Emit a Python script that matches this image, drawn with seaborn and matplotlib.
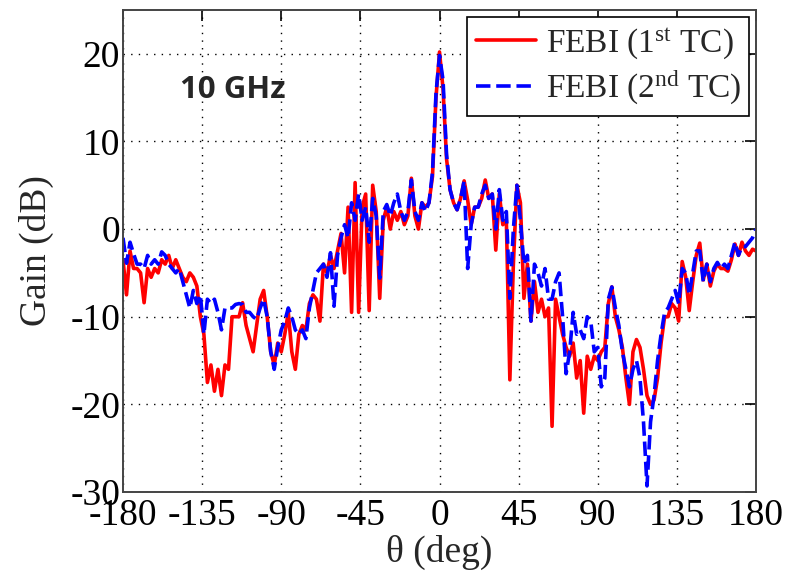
import numpy as np
import pandas as pd
import matplotlib
matplotlib.use("Agg")
import matplotlib.pyplot as plt
import seaborn as sns

# Observation angle grid (deg), 2-degree steps from -180 to 180
theta = np.arange(-180, 181, 2)

# Gain (dB) computed with the first test case
gain_tc1 = [
    -3.5, -7.5, -2.5, -4.5, -4.5, -5.0, -8.4, -4.5, -5.5, -4.5,      # -180 .. -162
    -5.0, -3.5, -4.0, -3.0, -4.5, -3.5, -4.5, -5.5, -6.0, -5.0,      # -160 .. -142
    -5.5, -6.5, -10.0, -12.0, -17.5, -15.5, -18.5, -16.0, -19.0, -15.5,  # -140 .. -122
    -16.0, -10.0, -10.0, -10.0, -8.4, -11.0, -12.5, -14.0, -11.0, -8.0,  # -120 .. -102
    -7.0, -10.0, -14.0, -15.5, -13.0, -14.0, -12.0, -9.5, -14.0, -16.0,  # -100 .. -82
    -12.0, -11.0, -11.5, -8.5, -7.5, -8.0, -10.5, -4.0, -5.0, -3.0,      # -80 .. -62
    -4.5, -2.5, -0.5, -5.0, 2.5, -9.5, 5.3, -9.5, 2.5, 4.0,              # -60 .. -42
    -9.3, 5.0, 2.0, -7.9, 1.0, 2.5, 0.0, 2.0, 1.0, 2.0,                  # -40 .. -22
    0.5, 1.5, 5.8, 1.5, 0.0, 3.0, 2.5, 3.0, 6.0, 15.0,                   # -20 .. -2
    20.2,                                                                # 0
    16.0, 8.0, 4.5, 3.0, 2.2, 3.5, 5.5, 3.3, 0.5, 2.5,                   # 2 .. 20
    2.5, 3.5, 5.6, 3.5, 4.0, -2.4, 4.0, 0.5, 1.0, -17.2,                 # 22 .. 40
    -4.0, 5.0, 3.0, -7.9, -4.0, -10.5, -6.0, -9.5, -8.0, -10.0,          # 42 .. 60
    -9.0, -22.5, -8.0, -10.0, -12.0, -13.5, -14.5, -13.0, -17.0, -15.0,  # 62 .. 80
    -21.0, -14.5, -16.0, -14.5, -15.0, -14.0, -13.5, -8.5, -6.6, -10.0,  # 82 .. 100
    -11.5, -13.5, -17.0, -20.0, -14.0, -12.6, -13.5, -16.0, -19.0, -20.0,  # 102 .. 120
    -19.5, -17.0, -13.0, -10.0, -10.0, -8.5, -9.0, -10.5, -3.7, -5.5,    # 122 .. 140
    -9.3, -6.0, -3.0, -1.6, -5.8, -4.0, -6.5, -4.8, -4.0, -4.5,          # 142 .. 160
    -4.5, -4.8, -3.5, -1.7, -3.0, -1.5, -2.5, -3.0, -2.3, -2.5,          # 162 .. 180
]

# Gain (dB) computed with the second test case
gain_tc2 = [
    -1.0, -3.9, -1.5, -2.8, -4.0, -4.0, -4.5, -3.0, -4.0, -3.5,      # -180 .. -162
    -4.0, -2.6, -3.0, -4.0, -4.5, -5.0, -4.5, -6.0, -7.5, -9.0,      # -160 .. -142
    -7.0, -8.5, -7.5, -12.0, -8.0, -8.5, -8.0, -9.5, -11.5, -9.0,    # -140 .. -122
    -9.0, -9.0, -8.6, -8.5, -8.6, -9.5, -9.5, -10.0, -10.3, -9.0,    # -120 .. -102
    -8.0, -10.0, -14.0, -16.0, -13.5, -11.5, -10.5, -9.0, -10.0, -11.5,  # -100 .. -82
    -12.0, -11.5, -12.5, -9.0, -7.0, -5.0, -4.5, -4.0, -5.5, -2.7,   # -80 .. -62
    -8.8, -3.0, -1.0, 0.5, -1.0, 3.0, 1.0, 4.0, 1.0, 2.5,            # -60 .. -42
    -1.5, 3.5, 1.5, -5.6, 2.0, 2.8, 1.5, 3.0, 4.0, 2.0,              # -40 .. -22
    1.0, 2.0, 5.6, 2.0, 1.0, 3.0, 2.0, 3.0, 6.5, 15.5,               # -20 .. -2
    19.8,                                                            # 0
    17.0, 8.5, 4.5, 3.0, 2.2, 3.5, 5.5, -4.5, 0.5, 2.5,              # 2 .. 20
    2.5, 4.0, 5.0, 3.5, 4.0, 0.0, 4.5, 1.0, 2.0, -7.9,               # 22 .. 40
    0.0, 5.0, 1.0, -4.0, -3.0, -10.5, -4.0, -5.0, -6.5, -4.5,        # 42 .. 60
    -8.0, -8.0, -6.0, -5.0, -10.0, -16.5, -14.0, -9.5, -12.0, -11.5, # 62 .. 80
    -12.5, -10.0, -10.5, -14.0, -13.5, -18.0, -17.0, -8.0, -6.6, -9.0,  # 82 .. 100
    -11.0, -14.0, -16.0, -18.0, -16.0, -15.0, -17.0, -22.0, -29.3, -22.0,  # 102 .. 120
    -19.0, -15.0, -12.0, -9.5, -9.0, -8.0, -7.0, -8.5, -4.5, -5.0,   # 122 .. 140
    -7.5, -5.0, -2.5, -2.5, -6.0, -4.0, -6.0, -4.5, -3.8, -4.5,      # 142 .. 160
    -4.0, -4.5, -3.0, -1.5, -3.0, -2.0, -2.0, -1.5, -1.0, 0.0,       # 162 .. 180
]

series_names = ["FEBI (1$^{\\mathrm{st}}$ TC)", "FEBI (2$^{\\mathrm{nd}}$ TC)"]
x_ticks = [-180, -135, -90, -45, 0, 45, 90, 135, 180]
y_ticks = [-30, -20, -10, 0, 10, 20]
annotation = "10 GHz"

df = pd.concat([
    pd.DataFrame({"theta": theta, "gain": gain_tc1, "case": series_names[0]}),
    pd.DataFrame({"theta": theta, "gain": gain_tc2, "case": series_names[1]}),
], ignore_index=True)

sns.set_theme(style="white")
plt.rcParams["font.family"] = ["Liberation Serif", "DejaVu Serif"]
plt.rcParams["mathtext.fontset"] = "custom"
plt.rcParams["mathtext.rm"] = "Liberation Serif"
plt.rcParams["mathtext.it"] = "Liberation Serif:italic"

fig = plt.figure(figsize=(7.91, 5.83), dpi=100)
ax = fig.add_axes([0.1555, 0.156, 0.8003, 0.827])

sns.lineplot(
    data=df, x="theta", y="gain", hue="case", style="case",
    palette={series_names[0]: "#ff0000", series_names[1]: "#0000ff"},
    dashes={series_names[0]: "", series_names[1]: (4, 1.6)},
    linewidth=2.6, estimator=None, sort=False, ax=ax,
)

ax.set_xlim(-180, 180)
ax.set_ylim(-30, 25)
ax.set_xticks(x_ticks)
ax.set_xticklabels([str(t) for t in x_ticks])
ax.set_yticks(y_ticks)
ax.set_yticklabels([str(t) for t in y_ticks])

ax.grid(True, color="black", linestyle=(0, (1, 4.5)), linewidth=1.0)
ax.tick_params(axis="both", direction="in", length=8, width=1.2,
               top=True, right=True, labelsize=27, colors="black", pad=2)
ax.tick_params(axis="x", pad=5)
for s in ax.spines.values():
    s.set_color("#444444")
    s.set_linewidth(1.4)

ax.set_xlabel("θ (deg)", fontsize=27, labelpad=1)
ax.set_ylabel("Gain (dB)", fontsize=27, labelpad=12)

ax.text(-147.6, 15.0, annotation, fontsize=22.5, fontweight="bold",
        family=["Open Sans", "DejaVu Sans"], ha="left", va="baseline")

leg = ax.legend(loc="upper right", fontsize=24, frameon=True, fancybox=False,
                edgecolor="black", handlelength=1.8, handletextpad=0.3,
                borderpad=0.25, labelspacing=0.25, borderaxespad=0.2)
leg.get_frame().set_linewidth(1.2)
leg.get_frame().set_alpha(1.0)

fig.savefig("out.png", dpi=100)
